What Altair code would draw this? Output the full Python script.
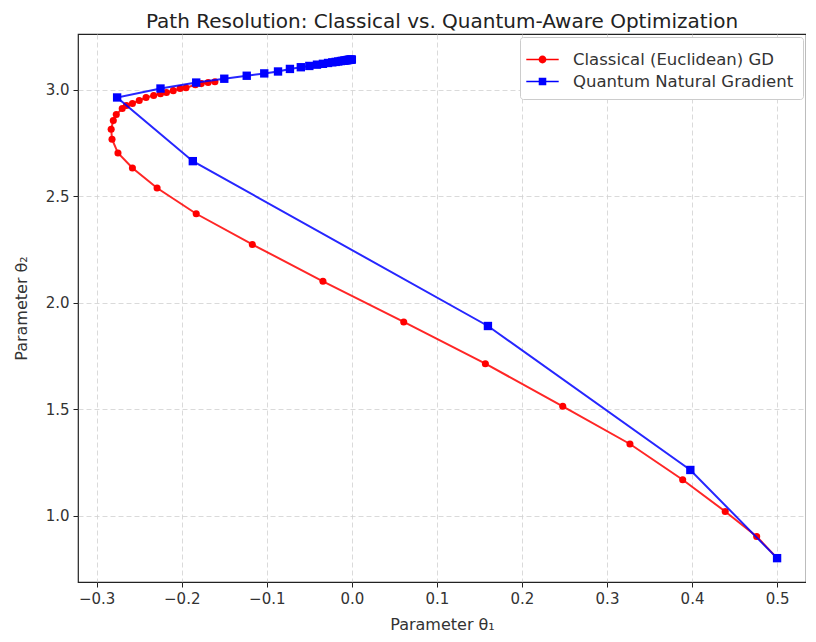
import altair as alt
import pandas as pd

# Classical (Euclidean) gradient descent path
cl_x = [0.500, 0.476, 0.439, 0.389, 0.327, 0.248, 0.157, 0.061, -0.034, -0.117,
        -0.183, -0.229, -0.258, -0.275, -0.282, -0.283, -0.2805, -0.277, -0.270, -0.265,
        -0.258, -0.250, -0.242, -0.233, -0.225, -0.218, -0.210, -0.202, -0.195, -0.184,
        -0.177, -0.169, -0.161]
cl_y = [0.800, 0.902, 1.019, 1.168, 1.336, 1.513, 1.713, 1.909, 2.100, 2.273,
        2.417, 2.538, 2.632, 2.702, 2.767, 2.814, 2.855, 2.883, 2.911, 2.925,
        2.935, 2.949, 2.963, 2.972, 2.981, 2.986, 2.995, 3.005, 3.009, 3.023,
        3.028, 3.033, 3.037]

# Quantum natural gradient path
qn_x = [0.500, 0.398, 0.160, -0.187, -0.276, -0.225, -0.183, -0.150, -0.1236, -0.103,
        -0.0868, -0.0728, -0.060, -0.050, -0.041, -0.034, -0.028, -0.023, -0.019, -0.016,
        -0.013, -0.011, -0.009, -0.0075, -0.006, -0.005, -0.004, -0.003, -0.002, -0.001, 0.000]
qn_y = [0.800, 1.214, 1.890, 2.664, 2.963, 3.005, 3.033, 3.051, 3.065, 3.076,
        3.085, 3.097, 3.105, 3.111, 3.117, 3.121, 3.125, 3.128, 3.130, 3.132,
        3.134, 3.135, 3.136, 3.137, 3.138, 3.139, 3.139, 3.140, 3.140, 3.141, 3.141]

series_names = ["Classical (Euclidean) GD", "Quantum Natural Gradient"]
series_colors = ["#ff0000", "#0000ff"]
x_ticks = [-0.3, -0.2, -0.1, 0.0, 0.1, 0.2, 0.3, 0.4, 0.5]
y_ticks = [1.0, 1.5, 2.0, 2.5, 3.0]

df_cl = pd.DataFrame({"x": cl_x, "y": cl_y, "step": list(range(len(cl_x))), "method": series_names[0]})
df_qn = pd.DataFrame({"x": qn_x, "y": qn_y, "step": list(range(len(qn_x))), "method": series_names[1]})
df_all = pd.concat([df_cl, df_qn], ignore_index=True)

FONT = "DejaVu Sans"

xs = alt.Scale(domain=[-0.322, 0.534], nice=False, zero=False)
ys = alt.Scale(domain=[0.688, 3.261], nice=False, zero=False)

xenc = alt.X("x:Q", scale=xs, title="Parameter θ₁",
             axis=alt.Axis(values=x_ticks, format=".1f"))
yenc = alt.Y("y:Q", scale=ys, title="Parameter θ₂",
             axis=alt.Axis(values=y_ticks, format=".1f"))

# legend glyphs: line with marker (coordinates relative to symbol size)
circle_path = ("M-1.2,-0.055L-0.28,-0.055L-0.28,0.055L-1.2,0.055Z "
               "M0.28,-0.055L1.2,-0.055L1.2,0.055L0.28,0.055Z "
               "M0.29,0A0.29,0.29,0,1,1,-0.29,0A0.29,0.29,0,1,1,0.29,0Z")
square_path = ("M-1.2,-0.055L-0.27,-0.055L-0.27,0.055L-1.2,0.055Z "
               "M0.27,-0.055L1.2,-0.055L1.2,0.055L0.27,0.055Z "
               "M-0.28,-0.28L0.28,-0.28L0.28,0.28L-0.28,0.28Z")

color_scale = alt.Scale(domain=series_names, range=series_colors)
shape_scale = alt.Scale(domain=series_names, range=[circle_path, square_path])

legend_layer = alt.Chart(df_all).transform_filter("false").mark_point(
    filled=True, size=729, opacity=1, strokeWidth=0
).encode(
    x=xenc, y=yenc,
    color=alt.Color("method:N", scale=color_scale, title=None,
                    legend=alt.Legend(orient="top-right", offset=3)),
    shape=alt.Shape("method:N", scale=shape_scale, title=None),
)

def path_layers(df, color, shape, size):
    line = alt.Chart(df).mark_line(color=color, strokeWidth=2, opacity=0.85).encode(
        x=xenc, y=yenc, order="step:Q")
    pts = alt.Chart(df).mark_point(color=color, shape=shape, filled=True,
                                   size=size, opacity=1).encode(x=xenc, y=yenc)
    return [line, pts]

layers = path_layers(df_cl, series_colors[0], "circle", 50) + \
         path_layers(df_qn, series_colors[1], "square", 70) + [legend_layer]

chart = alt.layer(*layers).properties(
    width=728, height=548,
    title=alt.Title("Path Resolution: Classical vs. Quantum-Aware Optimization",
                    fontSize=20, font=FONT, fontWeight="normal", color="#222", offset=2),
    autosize=alt.AutoSizeParams(type="none"),
    padding={"left": 70, "top": 26, "right": 0, "bottom": 52},
).configure_view(
    stroke="#222", strokeWidth=1.2
).configure_axis(
    labelFont=FONT, titleFont=FONT, labelFontSize=15, titleFontSize=16,
    titleFontWeight="normal", labelColor="#333", titleColor="#333",
    grid=True, gridColor="#d0d0d0", gridDash=[5, 3], gridWidth=0.8,
    domain=False, tickColor="#222", tickSize=5, labelPadding=4,
).configure_axisY(
    titlePadding=16
).configure_axisX(
    titlePadding=10
).configure_legend(
    labelFont=FONT, labelFontSize=16.5, labelColor="#333", labelLimit=400,
    strokeColor="#cccccc", fillColor="white", padding=9, cornerRadius=3,
    symbolSize=729, rowPadding=0, labelOffset=17, symbolStrokeWidth=0,
)

chart.save("out.html", embed_options={"renderer": "svg", "actions": False})
